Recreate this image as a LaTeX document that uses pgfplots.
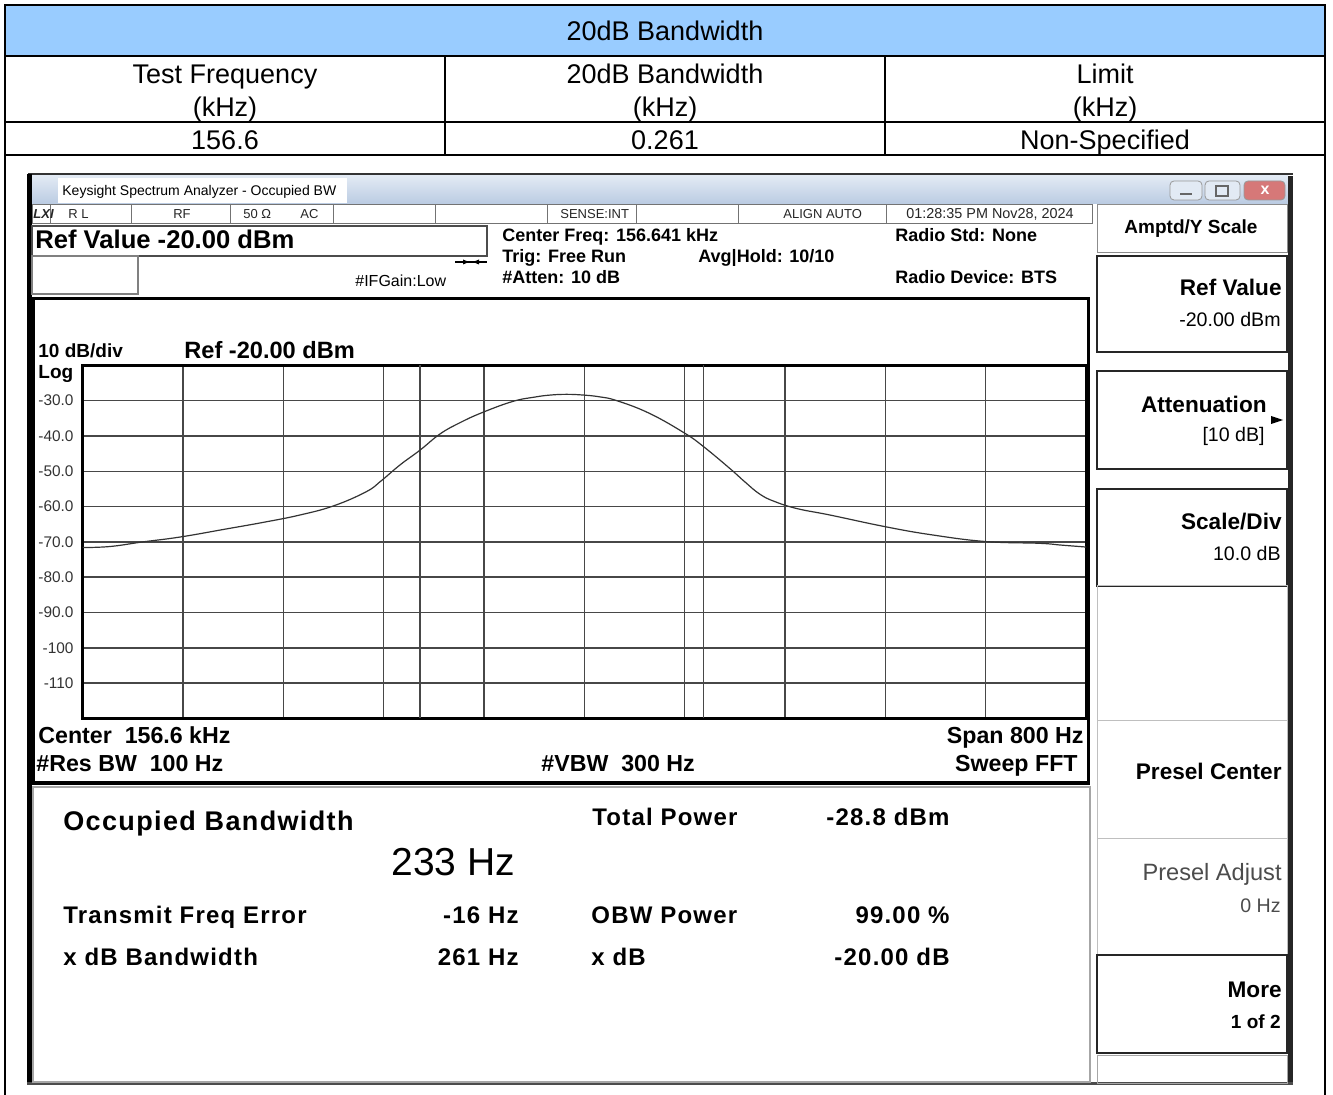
\documentclass[border=0pt]{standalone}
\usepackage{fontspec}
\setmainfont{Liberation Sans}
\newfontfamily\spaced[LetterSpace=5.0]{Liberation Sans}
\usepackage{pgfplots}
\pgfplotsset{compat=1.18}
\newcommand\fs[1]{\fontsize{#1}{#1}\selectfont}
\definecolor{hdrblue}{RGB}{153,204,255}
\definecolor{tbtop}{RGB}{226,234,244}
\definecolor{tbbot}{RGB}{186,203,226}
\definecolor{closered}{RGB}{214,120,120}
\begin{document}
\begin{tikzpicture}[x=0.5pt,y=-0.5pt,
  L/.style={anchor=base west,inner sep=0pt},
  R/.style={anchor=base east,inner sep=0pt},
  C/.style={anchor=base,inner sep=0pt}]
\useasboundingbox (0,0) rectangle (1333,1095);
\fill[white] (0,0) rectangle (1333,1095);
% ---------------- table ----------------
\fill[hdrblue] (5,5) rectangle (1325,56);
\begin{scope}[line width=0.7pt]
\draw (5,1095)--(5,5)--(1325,5)--(1325,1095);
\draw (5,56)--(1325,56) (5,122)--(1325,122) (5,155)--(1325,155);
\draw (445,56)--(445,155) (885,56)--(885,155);
\end{scope}
\begin{scope}[font=\fs{13.5}]
\node[C] at (665,40.5) {20dB Bandwidth};
\node[C] at (225,83.5) {Test Frequency};
\node[C] at (225,116.5) {(kHz)};
\node[C] at (665,83.5) {20dB Bandwidth};
\node[C] at (665,116.5) {(kHz)};
\node[C] at (1105,83.5) {Limit};
\node[C] at (1105,116.5) {(kHz)};
\node[C] at (225,150) {156.6};
\node[C] at (665,150) {0.261};
\node[C] at (1105,150) {Non-Specified};
\end{scope}
% ---------------- window chrome ----------------
\draw[black!80,line width=1pt] (28,174)--(1293,174);
\shade[top color=tbtop,bottom color=tbbot] (31,176) rectangle (1288,204);
\fill[white] (58,178) rectangle (347,203);
\node[L,font=\fs{7}] at (62,196) {Keysight Spectrum Analyzer - Occupied BW};
% window buttons
\filldraw[rounded corners=2pt,fill=tbtop,draw=black!40,line width=0.4pt] (1170,181) rectangle (1202,200);
\draw[black!60,line width=0.8pt] (1180,194)--(1192,194);
\filldraw[rounded corners=2pt,fill=tbtop,draw=black!40,line width=0.4pt] (1205,181) rectangle (1240,200);
\draw[black!60,line width=0.6pt] (1216,186) rectangle (1228,196);
\filldraw[rounded corners=2pt,fill=closered,draw=black!40,line width=0.4pt] (1244,181) rectangle (1285,200);
\node[font=\fs{8}\bfseries,text=white] at (1265,190) {x};
% frame
\fill[black] (27,174) rectangle (32,1085);
\fill[black!85] (1288,176) rectangle (1293,1085);
\fill[black!70] (27,1082) rectangle (1293,1085);
% status row
\draw[black!55,line width=0.5pt] (32,205) rectangle (1092,224);
\foreach \xx in {50,131,230,333,435,547,636,738,886} {\draw[black!55,line width=0.5pt] (\xx,205)--(\xx,224);}
\begin{scope}[font=\fs{6.5},text=black!85]
\node[L,font=\fs{6.5}\bfseries\itshape] at (33,219) {LXI};
\node[L] at (68,219) {R L};
\node[C] at (182,219) {RF};
\node[L] at (243,219) {50 Ω};
\node[L] at (300,219) {AC};
\node[L] at (560,219) {SENSE:INT};
\node[L] at (783,219) {ALIGN AUTO};
\node[L,font=\fs{7.2}] at (906,219) {01:28:35 PM Nov28, 2024};
\end{scope}
% ref value box
\draw[black!70,line width=0.7pt] (32,226) rectangle (487,256);
\node[L,font=\fs{12.8}\bfseries] at (35,248.5) {Ref Value -20.00 dBm};
\draw[black!50,line width=0.6pt] (32,256) rectangle (138,294);
\begin{scope}[font=\fs{9}\bfseries]
\node[L] at (502,242) {Center Freq: 156.641 kHz};
\node[L] at (502,263) {Trig: Free Run};
\node[L] at (502,284) {\#Atten: 10 dB};
\node[L] at (698,263) {Avg|Hold: 10/10};
\node[L] at (895,242) {Radio Std: None};
\node[L] at (895,284) {Radio Device: BTS};
\end{scope}
\node[L,font=\fs{8}] at (355,287) {\#IFGain:Low};
\draw[line width=0.6pt] (455,262)--(487,262);
\fill (463,259.5)--(469,262)--(463,264.5)--cycle;
\fill (479,259.5)--(473,262)--(479,264.5)--cycle;
% ---------------- softkeys ----------------
\draw[black!45,line width=0.5pt] (1097,205) rectangle (1287,253);
\node[C,font=\fs{9.5}\bfseries] at (1191,234) {Amptd/Y Scale};
\draw[black!85,line width=0.9pt] (1097,256) rectangle (1287,352);
\draw[black!85,line width=0.9pt] (1097,371) rectangle (1287,469);
\draw[black!85,line width=0.9pt] (1097,489) rectangle (1287,586);
\draw[black!25,line width=0.5pt] (1097,586) rectangle (1287,721);
\draw[black!25,line width=0.5pt] (1097,721) rectangle (1287,838);
\draw[black!25,line width=0.5pt] (1097,838) rectangle (1287,955);
\draw[black!85,line width=0.9pt] (1097,955) rectangle (1287,1053);
\draw[black!35,line width=0.5pt] (1097,1055) rectangle (1287,1083);
\node[R,font=\fs{11.3}\bfseries] at (1282,296) {Ref Value};
\node[R,font=\fs{9.8}] at (1281,327) {-20.00 dBm};
\node[R,font=\fs{11.3}\bfseries] at (1267,413) {Attenuation};
\node[R,font=\fs{9.8}] at (1265,442) {[10 dB]};
\fill (1271,416)--(1283,420)--(1271,424)--cycle;
\node[R,font=\fs{11.3}\bfseries] at (1282,530) {Scale/Div};
\node[R,font=\fs{9.8}] at (1281,561) {10.0 dB};
\node[R,font=\fs{11.3}\bfseries] at (1282,779) {Presel Center};
\node[R,font=\fs{11.8},text=black!70] at (1282,880) {Presel Adjust};
\node[R,font=\fs{9.8},text=black!70] at (1281,912) {0 Hz};
\node[R,font=\fs{11.3}\bfseries] at (1282,997) {More};
\node[R,font=\fs{9.5}\bfseries] at (1281,1028) {1 of 2};
% ---------------- graph panel ----------------
\draw[line width=1.5pt] (33,299) rectangle (1088,783);
\node[L,font=\fs{9.5}\bfseries] at (38,358) {10 dB/div};
\node[L,font=\fs{11.8}\bfseries] at (184,358.5) {Ref -20.00 dBm};
\node[L,font=\fs{9.5}\bfseries] at (38,379) {Log};
\begin{scope}[font=\fs{11.6}\bfseries]
\node[L] at (38,744) {Center\hspace{0.556em}156.6 kHz};
\node[L] at (36,771) {\#Res BW\hspace{0.556em}100 Hz};
\node[L] at (541,771) {\#VBW\hspace{0.556em}300 Hz};
\node[R] at (1084,744) {Span 800 Hz};
\node[R] at (1078,771) {Sweep FFT};
\end{scope}
\begin{axis}[at={(41.35pt,-359.2pt)}, anchor=south west, scale only axis,
  width=501.65pt, height=176.5pt,
  xmin=-400, xmax=400, ymin=-120, ymax=-20,
  xtick={-320,-240,...,320}, xticklabels={},
  ytick={-110,-100,...,-30},
  yticklabels={-110,-100,-90.0,-80.0,-70.0,-60.0,-50.0,-40.0,-30.0},
  major tick length=0pt,
  grid=major, grid style={line width=0.75pt,color=black!72},
  axis line style={line width=1.5pt},
  yticklabel style={font=\fs{7.7},text=black!80,inner sep=0pt,xshift=-4.4pt},
  extra x ticks={-131,95}, extra x tick labels={},
  extra x tick style={grid=major}]
\addplot[color=black!80, line width=0.6pt, smooth, tension=0.7] coordinates {
(-400,-71.6) (-378,-71.3) (-352,-70.0) (-322,-68.6) (-285,-66.3) (-255,-64.4)
(-227,-62.4) (-200,-59.8) (-174,-55.8) (-162,-52.7) (-147,-48.2) (-131,-44.0)
(-115,-39.4) (-99,-36.2) (-81,-33.3) (-57,-30.2) (-40,-29.0) (-27,-28.4)
(-14,-28.2) (-1,-28.4) (12,-28.9) (26,-30.0) (52,-33.6) (80,-39.2) (95,-43.0)
(116,-49.2) (128,-53.0) (140,-56.5) (152,-58.6) (170,-60.6) (196,-62.4)
(240,-65.7) (277,-68.0) (320,-69.9) (363,-70.4) (380,-70.9) (398,-71.4) (400,-71.5)};
\end{axis}
% ---------------- results panel ----------------
\draw[black!35,line width=0.6pt] (33,787) rectangle (1090,1082);
\node[L,font=\fs{13.5}\bfseries\spaced] at (63,830) {Occupied Bandwidth};
\node[L,font=\fs{19.5}] at (391,875) {233 Hz};
\begin{scope}[font=\fs{12}\bfseries\spaced]
\node[L] at (592,825) {Total Power};
\node[L] at (826,825) {-28.8 dBm};
\node[L] at (63,923) {Transmit Freq Error};
\node[R] at (519,923) {-16 Hz};
\node[L] at (591,923) {OBW Power};
\node[R] at (950,923) {99.00 \%};
\node[L] at (63,965) {x dB Bandwidth};
\node[R] at (519,965) {261 Hz};
\node[L] at (591,965) {x dB};
\node[R] at (950,965) {-20.00 dB};
\end{scope}
\end{tikzpicture}
\end{document}
